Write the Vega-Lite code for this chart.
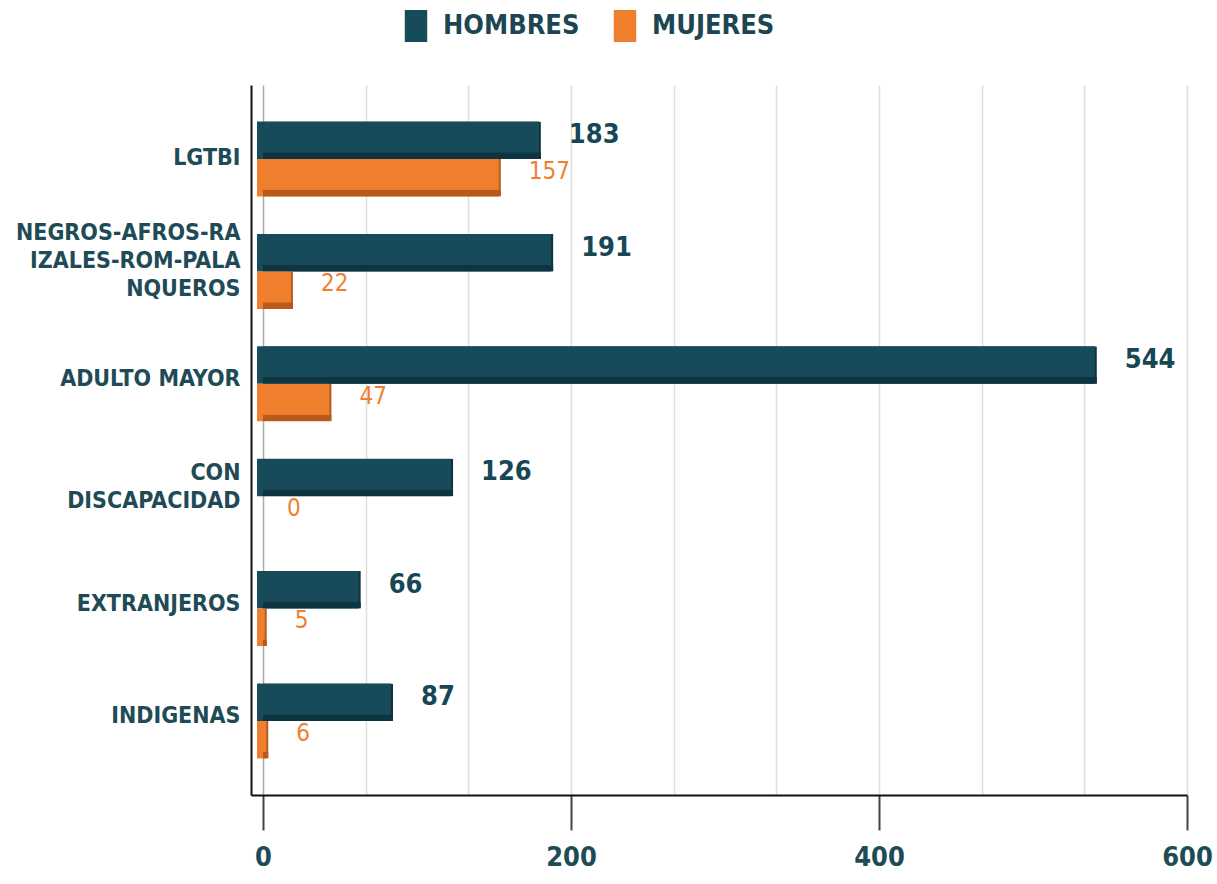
{
  "$schema": "https://vega.github.io/schema/vega-lite/v6.json",
  "autosize": {"type": "none"},
  "padding": {"left": 251, "top": 85, "right": 30, "bottom": 89},
  "width": 936,
  "height": 710,
  "background": "white",
  "config": {"view": {"stroke": null}},
  "data": {
    "values": [
      {"cat": "LGTBI", "sexo": "HOMBRES", "valor": 183},
      {"cat": "LGTBI", "sexo": "MUJERES", "valor": 157},
      {"cat": "NEGROS-AFROS-RAIZALES-ROM-PALANQUEROS", "sexo": "HOMBRES", "valor": 191},
      {"cat": "NEGROS-AFROS-RAIZALES-ROM-PALANQUEROS", "sexo": "MUJERES", "valor": 22},
      {"cat": "ADULTO MAYOR", "sexo": "HOMBRES", "valor": 544},
      {"cat": "ADULTO MAYOR", "sexo": "MUJERES", "valor": 47},
      {"cat": "CON DISCAPACIDAD", "sexo": "HOMBRES", "valor": 126},
      {"cat": "CON DISCAPACIDAD", "sexo": "MUJERES", "valor": 0},
      {"cat": "EXTRANJEROS", "sexo": "HOMBRES", "valor": 66},
      {"cat": "EXTRANJEROS", "sexo": "MUJERES", "valor": 5},
      {"cat": "INDIGENAS", "sexo": "HOMBRES", "valor": 87},
      {"cat": "INDIGENAS", "sexo": "MUJERES", "valor": 6}
    ]
  },
  "encoding": {
    "y": {
      "field": "cat", "type": "nominal", "sort": null, "title": null,
      "scale": {"paddingInner": 0.333, "paddingOuter": 0.325},
      "axis": {
        "domain": true, "domainColor": "#111111", "domainWidth": 2,
        "ticks": false, "grid": false, "labelLimit": 400,
        "labelFont": "DejaVu Sans Condensed", "labelFontWeight": "bold", "labelFontSize": 23,
        "labelColor": "#1F4B57", "labelPadding": 11, "labelLineHeight": 28,
        "labelOffset": {"condition": [
          {"test": "datum.value == 'NEGROS-AFROS-RAIZALES-ROM-PALANQUEROS'", "value": -38},
          {"test": "datum.value == 'CON DISCAPACIDAD'", "value": -23},
          {"test": "datum.value == 'LGTBI'", "value": -1}
        ], "value": -5},
        "labelExpr": "datum.value == 'NEGROS-AFROS-RAIZALES-ROM-PALANQUEROS' ? ['NEGROS-AFROS-RA','IZALES-ROM-PALA','NQUEROS'] : datum.value == 'CON DISCAPACIDAD' ? ['CON','DISCAPACIDAD'] : datum.value"
      }
    },
    "x": {
      "field": "valor", "type": "quantitative", "title": null,
      "scale": {"domain": [-7.8, 600], "nice": false, "zero": false},
      "axis": {
        "values": [0, 66.667, 133.333, 200, 266.667, 333.333, 400, 466.667, 533.333, 600],
        "domain": true, "domainColor": "#111111", "domainWidth": 2,
        "grid": true, "gridWidth": 1.5,
        "gridColor": {"condition": {"test": "datum.value == 0", "value": "#AAAAAA"}, "value": "#DEDEDE"},
        "tickSize": 35, "tickWidth": 2, "tickColor": "#444444",
        "tickOpacity": {"condition": {"test": "abs(datum.value/200 - round(datum.value/200)) < 0.01", "value": 1}, "value": 0},
        "labelExpr": "abs(datum.value/200 - round(datum.value/200)) < 0.01 ? format(datum.value, 'd') : ''",
        "labelFont": "DejaVu Sans Condensed", "labelFontWeight": "bold", "labelFontSize": 27,
        "labelColor": "#1F4B57", "labelPadding": 14, "labelFlush": false, "labelOverlap": false
      }
    }
  },
  "layer": [
    {
      "mark": {"type": "bar", "xOffset": -4, "cornerRadiusEnd": 3},
      "encoding": {
        "yOffset": {"field": "sexo", "type": "nominal", "scale": {"domain": ["HOMBRES", "MUJERES"], "paddingInner": 0, "paddingOuter": 0}},
        "fill": {"condition": {"test": "datum.sexo == 'HOMBRES'", "value": "#0D3440"}, "value": "#B85A1C"}
      }
    },
    {
      "mark": {"type": "bar", "xOffset": -6, "x2Offset": -4},
      "encoding": {
        "yOffset": {"field": "sexo", "type": "nominal", "scale": {"domain": ["HOMBRES", "MUJERES"], "paddingInner": 0, "paddingOuter": 0}},
        "color": {
          "field": "sexo", "type": "nominal", "title": null,
          "scale": {"domain": ["HOMBRES", "MUJERES"], "range": ["#174B5A", "#F07F2D"]},
          "legend": {
            "orient": "none", "legendX": 149, "legendY": -75, "direction": "horizontal",
            "padding": 0,
            "symbolType": "M-0.7,-1L0.7,-1L0.7,1L-0.7,1Z", "symbolSize": 1024,
            "symbolStrokeWidth": 0, "symbolOpacity": 1,
            "labelFont": "DejaVu Sans Condensed", "labelFontWeight": "bold", "labelFontSize": 27,
            "labelColor": "#1D4653", "labelOffset": 11, "columnPadding": 29
          }
        }
      }
    },
    {
      "mark": {"type": "bar", "xOffset": -4, "cornerRadiusEnd": 3, "height": {"band": 0.18}},
      "encoding": {
        "yOffset": {"field": "sexo", "type": "nominal", "scale": {"domain": ["HOMBRES", "MUJERES"], "paddingInner": 0, "paddingOuter": 0}},
        "fill": {"condition": {"test": "datum.sexo == 'HOMBRES'", "value": "#0D3440"}, "value": "#B85A1C"}
      }
    },
    {
      "transform": [{"filter": "datum.sexo == 'HOMBRES'"}],
      "mark": {"type": "text", "align": "left", "baseline": "middle", "dx": 24, "dy": -5,
               "font": "DejaVu Sans Condensed", "fontWeight": "bold", "fontSize": 27, "color": "#174755"},
      "encoding": {
        "yOffset": {"field": "sexo", "type": "nominal", "scale": {"domain": ["HOMBRES", "MUJERES"], "paddingInner": 0, "paddingOuter": 0}},
        "text": {"field": "valor", "type": "quantitative"}
      }
    },
    {
      "transform": [{"filter": "datum.sexo == 'MUJERES'"}],
      "mark": {"type": "text", "align": "left", "baseline": "middle", "dx": 24, "dy": -6,
               "font": "DejaVu Sans Condensed", "fontWeight": "normal", "fontSize": 24, "color": "#F08030"},
      "encoding": {
        "yOffset": {"field": "sexo", "type": "nominal", "scale": {"domain": ["HOMBRES", "MUJERES"], "paddingInner": 0, "paddingOuter": 0}},
        "text": {"field": "valor", "type": "quantitative"}
      }
    }
  ]
}
